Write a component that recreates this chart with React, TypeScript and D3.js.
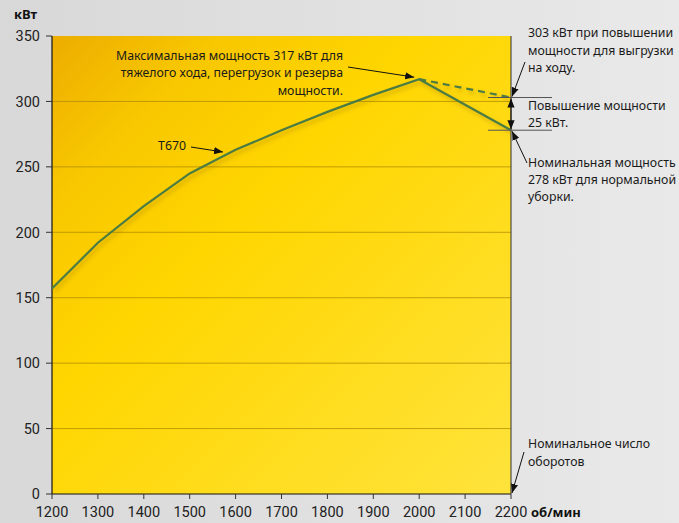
import React from 'react';
import * as d3 from 'd3';

const rpm = [1200, 1300, 1400, 1500, 1600, 1700, 1800, 1900, 2000, 2200];
const power = [157, 192, 220, 245, 263, 278, 292, 305, 317, 278];
const boostRpm = [2000, 2200];
const boostPower = [317, 303];
const xTicks = [1200, 1300, 1400, 1500, 1600, 1700, 1800, 1900, 2000, 2100, 2200];
const yTicks = [0, 50, 100, 150, 200, 250, 300, 350];

const W = 679;
const H = 523;
const FONT = '"Noto Sans", sans-serif';
const TICK_FONT = 'Roboto, sans-serif';

const App: React.FC = () => {
  const x = d3.scaleLinear().domain([1200, 2200]).range([52, 511]);
  const y = d3.scaleLinear().domain([0, 350]).range([494, 36]);

  const line = d3.line<[number, number]>()
    .x(d => x(d[0]))
    .y(d => y(d[1]));

  const mainPts = rpm.map((r, i) => [r, power[i]] as [number, number]);
  const boostPts = boostRpm.map((r, i) => [r, boostPower[i]] as [number, number]);

  const x0 = x(1200), x1 = x(2200), yTop = y(350), yBot = y(0);
  const peakX = x(2000), peakY = y(317);
  const y303 = y(303), y278 = y(278);

  const textStyle = { fontFamily: FONT, fontSize: 12.3, fill: '#1a1a1a' };

  return (
    <svg width={W} height={H} style={{ position: 'absolute', left: 0, top: 0 }}>
      <defs>
        <linearGradient id="pageBg" x1="0" y1="0" x2="1" y2="0">
          <stop offset="0%" stopColor="#d8d8d8" />
          <stop offset="100%" stopColor="#e9e9e9" />
        </linearGradient>
        <linearGradient id="plotBg" x1="0" y1="0" x2="1" y2="1">
          <stop offset="0%" stopColor="#edad00" />
          <stop offset="18%" stopColor="#f8c700" />
          <stop offset="40%" stopColor="#ffd600" />
          <stop offset="100%" stopColor="#ffe33c" />
        </linearGradient>
        <filter id="shadow" x="-10%" y="-10%" width="120%" height="130%">
          <feDropShadow dx="2" dy="3" stdDeviation="2" floodColor="#7a5a00" floodOpacity="0.35" />
        </filter>
        <marker id="arrow" viewBox="0 0 10 10" refX="10" refY="5" markerWidth="9" markerHeight="9" orient="auto-start-reverse" markerUnits="userSpaceOnUse">
          <path d="M0,1 L10,5 L0,9 Z" fill="#111" />
        </marker>
      </defs>

      <rect x={0} y={0} width={W} height={H} fill="url(#pageBg)" />
      <rect x={x0} y={yTop} width={x1 - x0} height={yBot - yTop} fill="url(#plotBg)" />

      {/* grid */}
      {yTicks.filter(t => t > 0 && t < 350).map(t => (
        <line key={t} x1={x0} x2={x1} y1={y(t)} y2={y(t)} stroke="#a88400" strokeOpacity={0.7} strokeWidth={1} />
      ))}

      {/* axes */}
      <line x1={x0} x2={x0} y1={yTop} y2={yBot} stroke="#111" strokeWidth={1.2} />
      <line x1={x0} x2={x1} y1={yBot} y2={yBot} stroke="#111" strokeWidth={1.2} />
      <line x1={x1} x2={x1} y1={yTop} y2={yBot} stroke="#333" strokeWidth={1} />
      {yTicks.map(t => (
        <g key={t}>
          <line x1={x0 - 6} x2={x0} y1={y(t)} y2={y(t)} stroke="#333" strokeWidth={1} />
          <text x={x0 - 12} y={y(t)} dy="0.36em" textAnchor="end" style={{ fontFamily: TICK_FONT, fontSize: 14.5, fill: '#222' }}>{t}</text>
        </g>
      ))}
      {xTicks.map(t => (
        <g key={t}>
          <line x1={x(t)} x2={x(t)} y1={yBot} y2={yBot + 5} stroke="#333" strokeWidth={1} />
          <text x={x(t)} y={517} textAnchor="middle" style={{ fontFamily: TICK_FONT, fontSize: 14.5, fill: '#222' }}>{t}</text>
        </g>
      ))}
      <text x={14} y={19} style={{ fontFamily: FONT, fontSize: 13, fontWeight: 700, fill: '#111' }}>кВт</text>
      <text x={531} y={517} style={{ fontFamily: FONT, fontSize: 13, fontWeight: 700, fill: '#111' }}>об/мин</text>

      {/* power curves */}
      <g filter="url(#shadow)">
        <path d={line(boostPts) || undefined} fill="none" stroke="#4b7b42" strokeWidth={2.2} strokeDasharray="7,5" />
        <path d={line(mainPts) || undefined} fill="none" stroke="#4b7b42" strokeWidth={2.2} />
      </g>

      {/* reference lines at 303 and 278 */}
      <line x1={488} x2={552} y1={y303} y2={y303} stroke="#555" strokeWidth={1} />
      <line x1={488} x2={552} y1={y278} y2={y278} stroke="#555" strokeWidth={1} />

      {/* annotations */}
      <g style={textStyle}>
        <text x={343} y={60} textAnchor="end">Максимальная мощность 317 кВт для</text>
        <text x={343} y={77} textAnchor="end">тяжелого хода, перегрузок и резерва</text>
        <text x={343} y={95} textAnchor="end">мощности.</text>
        <text x={186} y={150} textAnchor="end">T670</text>

        <text x={528} y={37}>303 кВт при повышении</text>
        <text x={528} y={55}>мощности для выгрузки</text>
        <text x={528} y={72}>на ходу.</text>
        <text x={528} y={110}>Повышение мощности</text>
        <text x={528} y={127}>25 кВт.</text>
        <text x={528} y={167}>Номинальная мощность</text>
        <text x={528} y={184}>278 кВт для нормальной</text>
        <text x={528} y={201}>уборки.</text>
        <text x={528} y={448}>Номинальное число</text>
        <text x={528} y={466}>оборотов</text>
      </g>

      <g stroke="#111" strokeWidth={1} fill="none">
        <line x1={348} y1={67} x2={peakX - 5} y2={peakY - 2} markerEnd="url(#arrow)" />
        <line x1={191} y1={147} x2={223} y2={152} markerEnd="url(#arrow)" />
        <line x1={525} y1={62} x2={x1 + 1} y2={y303 - 1} markerEnd="url(#arrow)" />
        <line x1={x1} y1={y303 + 1} x2={x1} y2={y278 - 1} markerStart="url(#arrow)" markerEnd="url(#arrow)" />
        <line x1={527} y1={163} x2={x1 + 1} y2={y278 + 1} markerEnd="url(#arrow)" />
        <line x1={524} y1={452} x2={x1 + 1} y2={yBot - 1} markerEnd="url(#arrow)" />
      </g>
    </svg>
  );
};

export default App;
